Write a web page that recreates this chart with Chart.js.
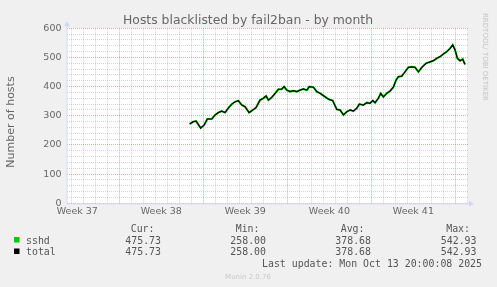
<!DOCTYPE html>
<html>
<head>
<meta charset="utf-8">
<style>
  html, body { margin: 0; padding: 0; background: #f0f0f0; }
  canvas { display: block; }
</style>
<script src="https://cdn.jsdelivr.net/npm/chart.js@4/dist/chart.umd.min.js"></script>
</head>
<body>
<canvas id="graph" width="497" height="287"></canvas>
<script>
// days counted from Monday of week 38 (grid line)
var days = [5.86, 6.17, 6.39, 6.78, 7.06, 7.33, 7.70, 7.98, 8.25, 8.53, 8.81, 9.08, 9.37, 9.64, 9.92,
    10.2, 10.48, 10.81, 11.12, 11.39, 11.73, 12.0, 12.23, 12.42, 12.7, 12.98, 13.25, 13.53, 13.73, 13.95,
    14.22, 14.5, 14.78, 15.06, 15.33, 15.62, 15.83, 16.17, 16.45, 16.73, 17.14, 17.42, 17.78, 18.12, 18.39,
    18.67, 18.95, 19.23, 19.5, 19.78, 20.0, 20.33, 20.62, 20.89, 21.12, 21.31, 21.58, 21.78, 22.0, 22.28,
    22.56, 22.83, 23.06, 23.25, 23.53, 23.81, 24.08, 24.37, 24.64, 24.92, 25.2, 25.56, 25.89, 26.17, 26.45,
    26.73, 27.0, 27.28, 27.56, 27.78, 27.97, 28.17, 28.39, 28.61, 28.8];
var sshd = [272, 280, 282, 258, 268, 289, 289, 303, 311, 316, 311, 326, 340, 348, 352,
    337, 331, 311, 320, 328, 354, 360, 368, 354, 363, 377, 391, 391, 400, 388,
    383, 386, 383, 388, 392, 388, 400, 398, 383, 377, 365, 357, 352, 322, 320,
    303, 314, 320, 316, 326, 340, 337, 345, 343, 352, 345, 360, 377, 365, 377,
    385, 398, 423, 434, 436, 451, 466, 468, 466, 451, 466, 480, 485, 489, 497,
    503, 512, 520, 531, 543, 526, 497, 489, 494, 476];
var total = sshd.slice();

var weekLabels = ['Week 37', 'Week 38', 'Week 39', 'Week 40', 'Week 41'];
var seriesNames = ['sshd', 'total'];
var seriesColors = ['#00cc00', '#000000'];
var statHeaders = ['Cur:', 'Min:', 'Avg:', 'Max:'];
var statValues = [
    ['475.73', '258.00', '378.68', '542.93'],
    ['475.73', '258.00', '378.68', '542.93']
];

var GRID = 'rgba(150,150,150,0.4)';
var MGRID = 'rgba(225,110,110,0.6)';
var AXIS = '#cfd6f8';
var FONT = '#666666';

function pts(vals) {
    return days.map(function (d, i) { return { x: d, y: vals[i] }; });
}

var munin = {
    id: 'munin',
    beforeDraw: function (chart) {
        var a = chart.chartArea, c = chart.ctx;
        c.save();
        c.fillStyle = '#ffffff';
        c.fillRect(a.left, a.top, a.right - a.left, a.bottom - a.top);
        c.restore();
    },
    afterDraw: function (chart) {
        var a = chart.chartArea, c = chart.ctx;
        c.save();
        // axes + arrows
        c.strokeStyle = AXIS;
        c.fillStyle = AXIS;
        c.lineWidth = 1;
        c.beginPath();
        c.moveTo(a.left, a.bottom + 0.5); c.lineTo(a.right + 2, a.bottom + 0.5);
        c.moveTo(a.left + 0.5, a.bottom); c.lineTo(a.left + 0.5, a.top - 3);
        c.stroke();
        c.beginPath();
        c.moveTo(a.right + 6, a.bottom + 0.5); c.lineTo(a.right + 1, a.bottom - 2.5); c.lineTo(a.right + 1, a.bottom + 3.5);
        c.fill();
        c.beginPath();
        c.moveTo(a.left + 0.5, a.top - 7); c.lineTo(a.left - 2.5, a.top - 2); c.lineTo(a.left + 3.5, a.top - 2);
        c.fill();

        // title
        c.fillStyle = FONT;
        c.font = '12.4px "DejaVu Sans"';
        c.textAlign = 'center';
        c.textBaseline = 'alphabetic';
        c.fillText('Hosts blacklisted by fail2ban - by month', 248, 23.5);

        // vertical label
        c.save();
        c.translate(14, 122);
        c.rotate(-Math.PI / 2);
        c.font = '11px "DejaVu Sans"';
        c.fillText('Number of hosts', 0, 0);
        c.restore();

        // watermark
        c.save();
        c.translate(483, 13);
        c.rotate(Math.PI / 2);
        c.textAlign = 'left';
        c.fillStyle = '#c4c4c4';
        c.font = '7px "DejaVu Sans"';
        c.fillText('RRDTOOL/ TOBI OETIKER', 0, 0);
        c.restore();

        // legend
        var colRight = [161, 266, 371, 476.5];
        c.font = '9.9px "DejaVu Sans Mono"';
        c.fillStyle = '#555555';
        c.textAlign = 'right';
        statHeaders.forEach(function (h, i) { c.fillText(h, colRight[i] - 6.5, 231.5); });
        seriesNames.forEach(function (name, r) {
            var y = 243.5 + r * 11.5;
            c.fillStyle = seriesColors[r];
            c.fillRect(14, y - 6.5, 5.5, 5.5);
            c.fillStyle = '#555555';
            c.textAlign = 'left';
            c.fillText(name, 26, y);
            c.textAlign = 'right';
            statValues[r].forEach(function (v, i) { c.fillText(v, colRight[i], y); });
        });
        c.fillText('Last update: Mon Oct 13 20:00:08 2025', 482, 266.5);

        c.textAlign = 'center';
        c.fillStyle = '#c8c8c8';
        c.font = '7px "DejaVu Sans"';
        c.fillText('Munin 2.0.76', 248, 279);
        c.restore();
    }
};

var ctx = document.getElementById('graph').getContext('2d');
var chart = new Chart(ctx, {
    type: 'line',
    data: {
        datasets: [{
            label: 'sshd',
            data: pts(sshd),
            borderColor: '#00cc00',
            borderWidth: 2,
            pointRadius: 0,
            tension: 0,
            order: 2
        }, {
            label: 'total',
            data: pts(total),
            borderColor: '#000000',
            borderWidth: 1.2,
            pointRadius: 0,
            tension: 0,
            order: 1
        }]
    },
    options: {
        responsive: false,
        animation: false,
        devicePixelRatio: 1,
        layout: { padding: { top: 28.3, right: 29, bottom: 63.7, left: 0 } },
        plugins: { legend: { display: false }, title: { display: false }, tooltip: { enabled: false } },
        scales: {
            x: {
                type: 'linear',
                min: -4.4,
                max: 29.05,
                afterFit: function (s) { s.height = 20; },
                afterBuildTicks: function (s) {
                    var t = [];
                    for (var d = -4; d <= 29; d++) t.push({ value: d });
                    weekLabels.forEach(function (w, i) { t.push({ value: 7 * i - 3.5 }); });
                    s.ticks = t;
                },
                grid: {
                    drawTicks: false,
                    lineWidth: 1,
                    color: function (c) {
                        var v = c.tick.value;
                        if (!Number.isInteger(v)) return 'rgba(0,0,0,0)';
                        return v % 7 === 0 ? MGRID : GRID;
                    }
                },
                border: { display: false, dash: [1, 1] },
                ticks: {
                    autoSkip: false,
                    maxRotation: 0,
                    minRotation: 0,
                    padding: 3,
                    color: FONT,
                    font: { family: 'DejaVu Sans', size: 9.5 },
                    callback: function (v) {
                        if (Number.isInteger(v)) return '';
                        return weekLabels[Math.round((v + 3.5) / 7)];
                    }
                }
            },
            y: {
                min: 0,
                max: 600,
                afterFit: function (s) { s.width = 66.5; },
                afterBuildTicks: function (s) {
                    var t = [];
                    for (var v = 0; v <= 600; v += 20) t.push({ value: v });
                    s.ticks = t;
                },
                grid: {
                    drawTicks: false,
                    lineWidth: 1,
                    color: function (c) { return c.tick.value % 100 === 0 ? MGRID : GRID; }
                },
                border: { display: false, dash: [1, 1] },
                ticks: {
                    autoSkip: false,
                    padding: 5,
                    color: FONT,
                    font: { family: 'DejaVu Sans', size: 9.5 },
                    callback: function (v) { return v % 100 === 0 ? String(v) : ''; }
                }
            }
        }
    },
    plugins: [munin]
});
</script>
</body>
</html>
